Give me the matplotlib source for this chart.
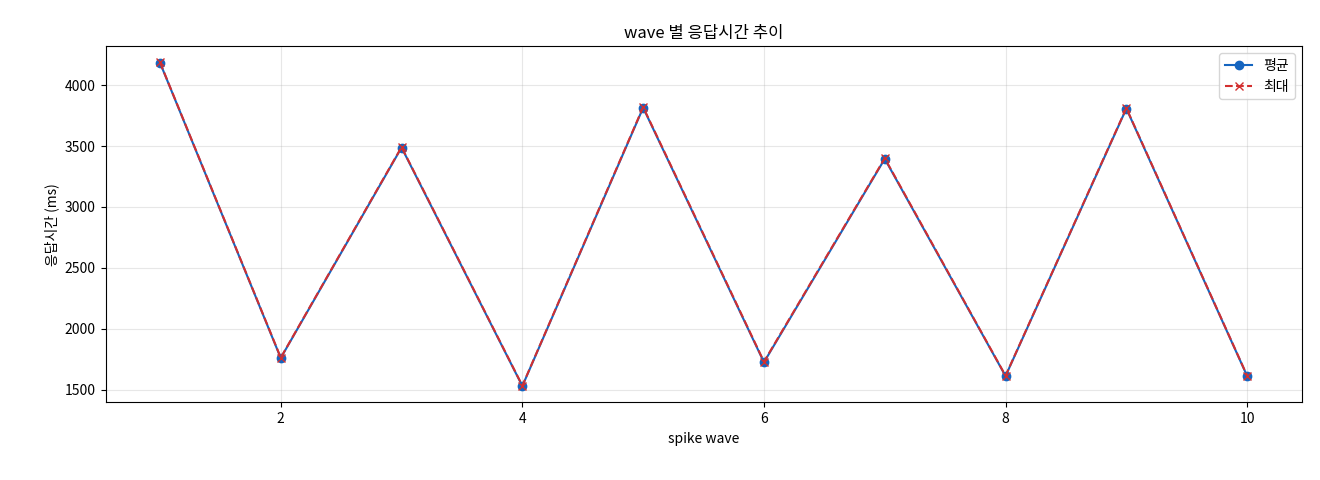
import matplotlib
matplotlib.use("Agg")
import matplotlib.pyplot as plt

plt.rcParams['font.family'] = ['Noto Sans CJK KR', 'DejaVu Sans']

waves = [1, 2, 3, 4, 5, 6, 7, 8, 9, 10]
mean_ms = [4185, 1760, 3488, 1530, 3815, 1725, 3395, 1612, 3808, 1612]
max_ms = [4188, 1763, 3492, 1533, 3820, 1730, 3400, 1615, 3812, 1615]

fig, ax = plt.subplots(figsize=(13.2, 4.8), dpi=100)
fig.subplots_adjust(left=0.08, right=0.986, top=0.904, bottom=0.162)
ax.plot(waves, mean_ms, '-o', color='#1565c0', label='평균', markersize=6, linewidth=1.5)
ax.plot(waves, max_ms, '--x', color='#d32f2f', label='최대', markersize=6, linewidth=1.5)
ax.set_title('wave 별 응답시간 추이')
ax.set_xlabel('spike wave')
ax.set_ylabel('응답시간 (ms)')
ax.grid(True, alpha=0.3)
ax.legend(loc='upper right')
fig.savefig('out.png')
